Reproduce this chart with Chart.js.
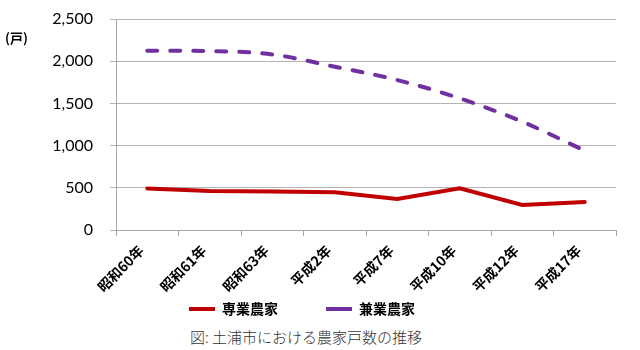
<!DOCTYPE html>
<html>
<head>
<meta charset="utf-8">
<script src="https://cdn.jsdelivr.net/npm/chart.js@4/dist/chart.umd.min.js"></script>
<style>
  body { margin: 0; background: #fff; }
  #wrap { position: relative; width: 640px; height: 350px; }
  #unit { position: absolute; left: 5px; top: 28px; font: bold 13px "Noto Sans CJK JP", sans-serif; color: #000; }
  #caption { position: absolute; left: 0; width: 612px; top: 326px; text-align: center; font: 300 15px "Noto Sans CJK JP", sans-serif; color: #333; }
</style>
</head>
<body>
<div id="wrap">
  <canvas id="farmChart" width="640" height="322"></canvas>
  <div id="unit">(戸)</div>
  <div id="caption">図: 土浦市における農家戸数の推移</div>
</div>
<script>
// 年次ごとの農家戸数
let years = ['昭和60年', '昭和61年', '昭和63年', '平成2年', '平成7年', '平成10年', '平成12年', '平成17年'];
let fullTime = [493, 462, 455, 446, 367, 493, 296, 332];
let partTime = [2125, 2120, 2080, 1935, 1777, 1560, 1283, 940];
let yTicks = [0, 500, 1000, 1500, 2000, 2500];

// 凡例は低く確保し、描画位置だけ年ラベルの下端付近へ寄せる
let legendPlace = {
    id: 'legendPlace',
    afterInit(chart) {
        let fit = chart.legend.fit;
        chart.legend.fit = function () {
            fit.call(this);
            this.height = 20;
        };
    },
    afterLayout(chart) {
        let lg = chart.legend;
        lg.top = 254;
        lg.bottom = 322;
        lg.height = 68;
        lg.left = 0;
        lg.right = 604;
        lg.width = 604;
    }
};

let ctx = document.getElementById('farmChart').getContext('2d');

let chart = new Chart(ctx, {
    type: 'line',
    data: {
        labels: years,
        datasets: [{
            label: '専業農家',
            data: fullTime,
            borderColor: '#c00000',
            backgroundColor: '#c00000',
            borderWidth: 4,
            borderCapStyle: 'round',
            pointRadius: 0,
            tension: 0
        }, {
            label: '兼業農家',
            data: partTime,
            borderColor: '#7030a0',
            backgroundColor: '#7030a0',
            borderWidth: 4,
            borderDash: [10, 13],
            borderCapStyle: 'round',
            pointRadius: 0,
            cubicInterpolationMode: 'monotone'
        }]
    },
    plugins: [legendPlace],
    options: {
        responsive: false,
        animation: { duration: 0 },
        layout: { padding: { left: 51, right: 24, top: 0, bottom: 0 } },
        plugins: {
            legend: {
                position: 'bottom',
                labels: {
                    usePointStyle: true,
                    pointStyle: 'line',
                    pointStyleWidth: 26,
                    boxHeight: 4,
                    padding: 48,
                    color: '#000',
                    font: { family: '"Noto Sans CJK JP"', size: 14, weight: 'bold' }
                }
            },
            tooltip: { enabled: false }
        },
        scales: {
            x: {
                offset: true,
                afterFit: scale => {
                    scale.height = 72;
                    scale.paddingLeft = 0;
                    scale.paddingRight = 0;
                },
                grid: { display: true, drawOnChartArea: false, offset: true, tickLength: 6, color: '#a6a6a6' },
                border: { color: '#a6a6a6' },
                ticks: {
                    minRotation: 45, maxRotation: 45,
                    color: '#000',
                    padding: 6,
                    labelOffset: -6,
                    font: { family: '"Noto Sans CJK JP"', size: 14, weight: 'bold' }
                }
            },
            y: {
                min: 0, max: 2500,
                afterBuildTicks: axis => { axis.ticks = yTicks.map(v => ({ value: v })); },
                afterFit: scale => {
                    scale.width = 65;
                    scale.paddingTop = 19;
                    scale.paddingBottom = 0;
                },
                grid: { color: '#b3b3b3', tickLength: 6 },
                border: { color: '#a6a6a6' },
                ticks: {
                    color: '#000',
                    padding: 17,
                    font: { family: 'Lato', size: 16 },
                    callback: v => v.toLocaleString('en-US')
                }
            }
        }
    }
});
</script>
</body>
</html>
